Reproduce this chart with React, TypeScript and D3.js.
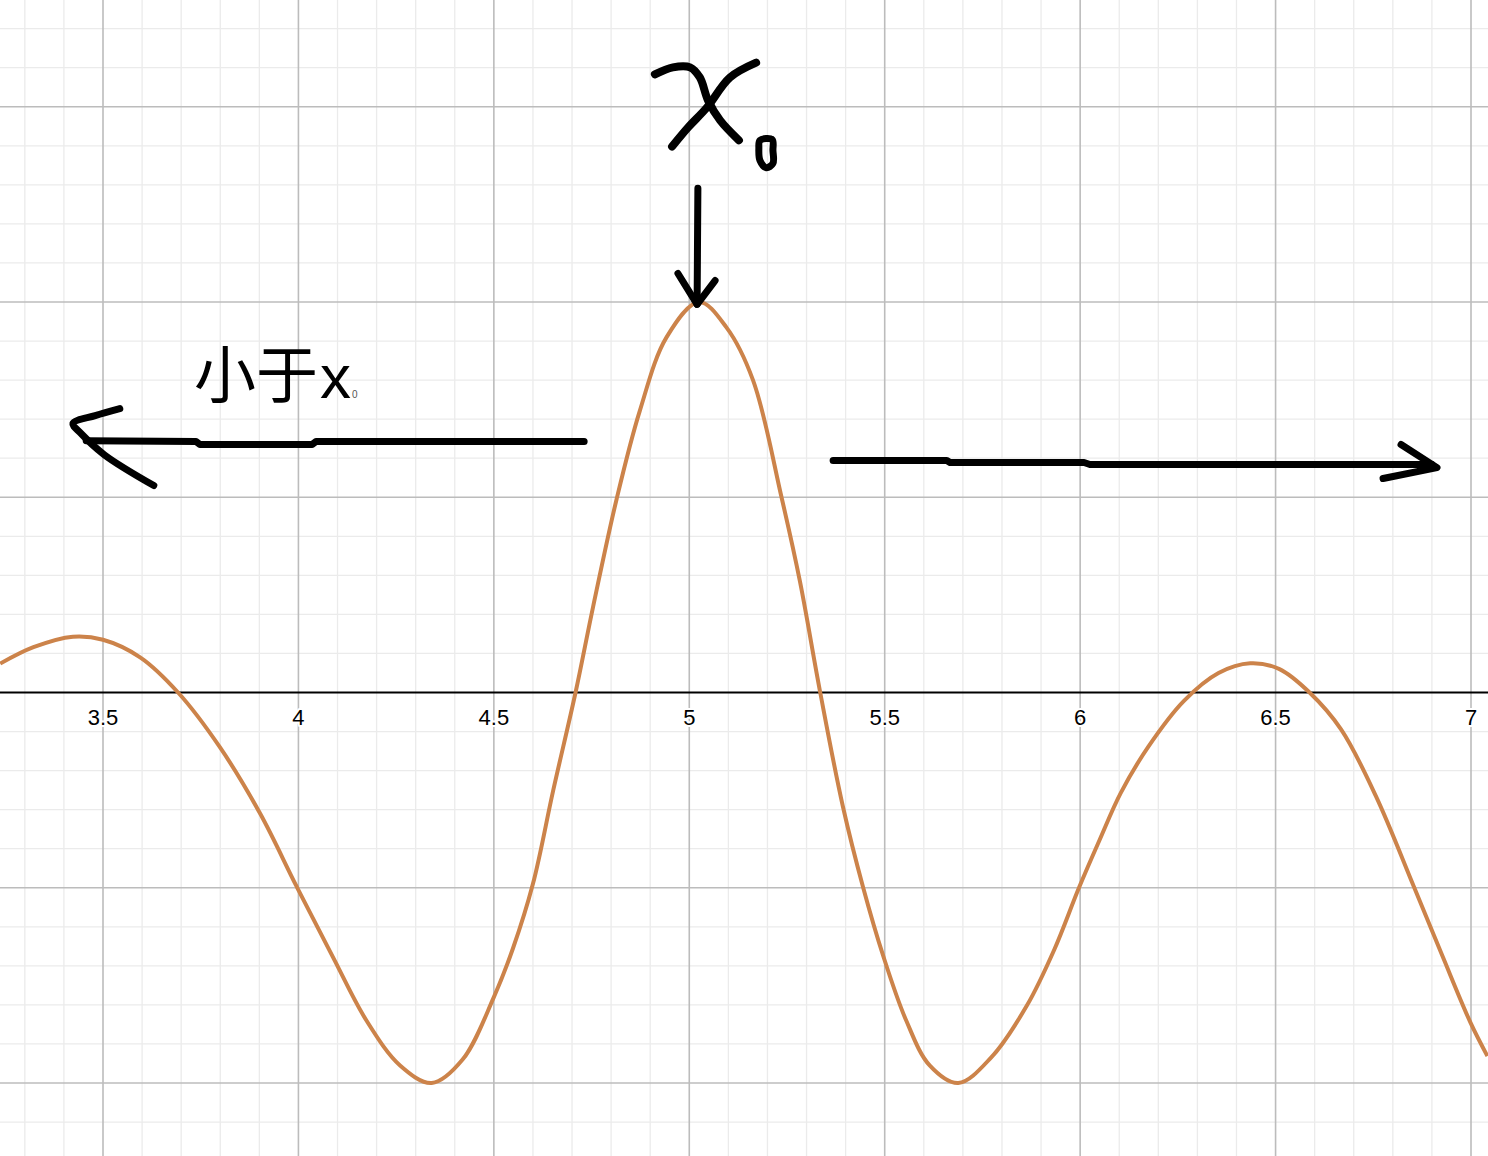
import React from 'react';
import * as d3 from 'd3';

// ---- data ----
const curveX = [3.237, 3.322, 3.423, 3.5, 3.595, 3.692, 3.799, 3.902, 3.996, 4.088, 4.174, 4.26, 4.341, 4.42, 4.5, 4.549, 4.6, 4.652, 4.709, 4.754, 4.814, 4.873, 4.942, 5.025, 5.095, 5.163, 5.236, 5.283, 5.335, 5.393, 5.445, 5.496, 5.555, 5.615, 5.688, 5.772, 5.863, 5.934, 5.997, 6.05, 6.104, 6.175, 6.265, 6.354, 6.435, 6.51, 6.587, 6.668, 6.757, 6.855, 6.927, 6.999, 7.042];
const curveY = [0.074, 0.116, 0.143, 0.135, 0.09, 0.0, -0.14, -0.31, -0.498, -0.677, -0.84, -0.955, -1.0, -0.94, -0.78, -0.655, -0.49, -0.25, 0.0, 0.22, 0.495, 0.72, 0.91, 1.0, 0.935, 0.8, 0.5, 0.285, 0.0, -0.292, -0.5, -0.674, -0.84, -0.955, -1.0, -0.935, -0.803, -0.658, -0.5, -0.377, -0.257, -0.138, -0.022, 0.05, 0.075, 0.06, 0.0, -0.095, -0.266, -0.5, -0.675, -0.846, -0.931];

const xTickValues = [3.5, 4, 4.5, 5, 5.5, 6, 6.5, 7];
const xTickLabels = ['3.5', '4', '4.5', '5', '5.5', '6', '6.5', '7'];

const labelText = '小于';
const labelLatin = 'x';
const labelSub = '0';
const labelPos: [number, number] = [3.733, 0.753];
const labelSubPos: [number, number] = [4.137, 0.755];

// hand-drawn annotation strokes (data units)
const chiStroke1: [number, number][] = [[4.912, 1.583], [4.958, 1.601], [5.002, 1.601], [5.027, 1.575], [5.048, 1.516], [5.079, 1.465], [5.127, 1.414]];
const chiStroke2: [number, number][] = [[5.171, 1.613], [5.104, 1.575], [5.045, 1.498], [4.997, 1.447], [4.956, 1.398]];
const subZero: [number, number][] = [[5.181, 1.414], [5.212, 1.416], [5.214, 1.388], [5.214, 1.355], [5.197, 1.344], [5.181, 1.362], [5.178, 1.393]];
const downShaft: [number, number][] = [[5.022, 1.291], [5.02, 0.994]];
const downHead: [number, number][] = [[4.971, 1.073], [5.02, 0.994], [5.066, 1.055]];
const leftShaft: [number, number][] = [[4.731, 0.643], [4.045, 0.643], [4.035, 0.635], [3.748, 0.635], [3.738, 0.643], [3.457, 0.645]];
const leftHead: [number, number][] = [[3.543, 0.727], [3.48, 0.709], [3.423, 0.689], [3.441, 0.666], [3.503, 0.609], [3.63, 0.53]];
const rightShaft: [number, number][] = [[5.368, 0.594], [5.659, 0.594], [5.667, 0.589], [6.01, 0.589], [6.025, 0.584], [6.9, 0.584]];
const rightHead: [number, number][] = [[6.821, 0.635], [6.913, 0.576], [6.775, 0.548]];

const W = 1488;
const H = 1156;

export default function App() {
  const x = d3.scaleLinear().domain([3.5, 7]).range([103, 1471]);
  const y = d3.scaleLinear().domain([-1, 1]).range([1083, 302]);

  const [x0, x1] = [x.invert(0), x.invert(W)];
  const [y1, y0] = [y.invert(0), y.invert(H)];

  const minorX = d3.range(Math.ceil(x0 * 10), Math.floor(x1 * 10) + 1).map((k) => k / 10).filter((v) => Math.abs(v * 2 - Math.round(v * 2)) > 1e-6);
  const majorX = d3.range(Math.ceil(x0 * 2), Math.floor(x1 * 2) + 1).map((k) => k / 2);
  const minorY = d3.range(Math.ceil(y0 * 10), Math.floor(y1 * 10) + 1).map((k) => k / 10).filter((v) => Math.abs(v * 2 - Math.round(v * 2)) > 1e-6);
  const majorY = d3.range(Math.ceil(y0 * 2), Math.floor(y1 * 2) + 1).map((k) => k / 2).filter((v) => v !== 0);

  const pts = curveX.map((v, i) => [v, curveY[i]] as [number, number]);
  const curveLine = d3.line<[number, number]>().x((d) => x(d[0])).y((d) => y(d[1])).curve(d3.curveCatmullRom.alpha(0.5));
  const inkLine = d3.line<[number, number]>().x((d) => x(d[0])).y((d) => y(d[1])).curve(d3.curveCatmullRom.alpha(0.5));
  const inkClosed = d3.line<[number, number]>().x((d) => x(d[0])).y((d) => y(d[1])).curve(d3.curveCatmullRomClosed.alpha(0.5));
  const straight = d3.line<[number, number]>().x((d) => x(d[0])).y((d) => y(d[1]));

  const ink = { fill: 'none', stroke: '#000', strokeLinecap: 'round' as const, strokeLinejoin: 'round' as const };

  return (
    <svg width={W} height={H} style={{ position: 'absolute', left: 0, top: 0, background: '#fff' }}>
      <rect x={0} y={0} width={W} height={H} fill="#fff" />
      <g>
        {minorX.map((v) => (
          <line key={'mx' + v} x1={x(v)} x2={x(v)} y1={0} y2={H} stroke="#ebebeb" strokeWidth={1.3} />
        ))}
        {minorY.map((v) => (
          <line key={'my' + v} y1={y(v)} y2={y(v)} x1={0} x2={W} stroke="#ebebeb" strokeWidth={1.3} />
        ))}
        {majorX.map((v) => (
          <line key={'Mx' + v} x1={x(v)} x2={x(v)} y1={0} y2={H} stroke="#bcbcbc" strokeWidth={1.6} />
        ))}
        {majorY.map((v) => (
          <line key={'My' + v} y1={y(v)} y2={y(v)} x1={0} x2={W} stroke="#bcbcbc" strokeWidth={1.6} />
        ))}
      </g>
      <line x1={0} x2={W} y1={y(0)} y2={y(0)} stroke="#000" strokeWidth={2} />
      <g fontFamily="'Liberation Sans', Arial, sans-serif" fontSize={22} textAnchor="middle" fill="#000">
        {xTickValues.map((v, i) => (
          <text key={'t' + v} x={x(v)} y={y(0) + 32} stroke="#fff" strokeWidth={4} paintOrder="stroke" strokeLinejoin="round">
            {xTickLabels[i]}
          </text>
        ))}
      </g>
      <path d={curveLine(pts) || ''} fill="none" stroke="#cc834a" strokeWidth={4} strokeLinejoin="round" />

      {/* hand-drawn annotations */}
      <path d={inkLine(chiStroke1) || ''} {...ink} strokeWidth={8} />
      <path d={inkLine(chiStroke2) || ''} {...ink} strokeWidth={8} />
      <path d={inkClosed(subZero) || ''} {...ink} strokeWidth={7} />
      <path d={straight(downShaft) || ''} {...ink} strokeWidth={7} />
      <path d={straight(downHead) || ''} {...ink} strokeWidth={7} />
      <path d={straight(leftShaft) || ''} {...ink} strokeWidth={7} />
      <path d={inkLine(leftHead) || ''} {...ink} strokeWidth={7} />
      <path d={straight(rightShaft) || ''} {...ink} strokeWidth={7} />
      <path d={straight(rightHead) || ''} {...ink} strokeWidth={7} />

      <text x={x(labelPos[0])} y={y(labelPos[1])} fontSize={62} fill="#000">
        <tspan fontFamily="'Noto Sans CJK SC', sans-serif">{labelText}</tspan>
        <tspan fontFamily="'Liberation Sans', Arial, sans-serif" dx={2}>{labelLatin}</tspan>
      </text>
      <text x={x(labelSubPos[0])} y={y(labelSubPos[1])} fontSize={10} fill="#555" fontFamily="'Liberation Sans', Arial, sans-serif">
        {labelSub}
      </text>
    </svg>
  );
}
